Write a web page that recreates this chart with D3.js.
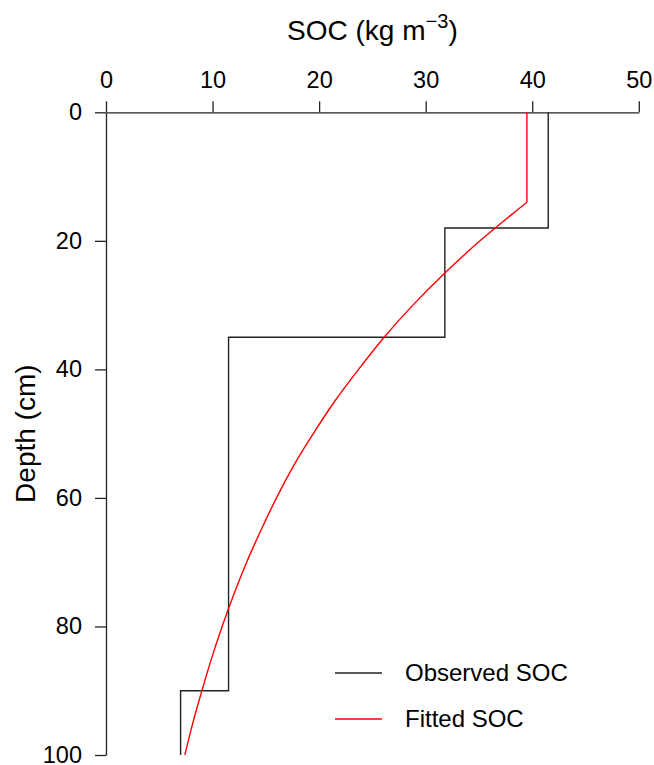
<!DOCTYPE html>
<html>
<head>
<meta charset="utf-8">
<script src="https://cdn.jsdelivr.net/npm/d3@7"></script>
<style>
  body { margin: 0; background: #fff; }
  text { font-family: "Liberation Sans", Arial, sans-serif; fill: #000; }
</style>
</head>
<body>
<svg class="chart" width="654" height="765"></svg>
<script>
// observed layers: depth bounds (cm) and SOC per layer
var layerTop = [0, 18, 35, 90];
var layerBottom = [18, 35, 90, 100];
var observedSOC = [41.5, 31.8, 11.5, 7.0];

// fitted curve
var fittedDepth = [0, 14, 20, 25, 30, 35, 40, 45, 50, 55, 60, 65, 70, 75, 80, 85, 90, 95, 100];
var fittedSOC = [39.5, 39.5, 35.1, 31.8, 28.8, 26.1, 23.7, 21.45, 19.45, 17.6, 16.0, 14.55, 13.2, 12.0, 10.9, 9.9, 9.0, 8.15, 7.4];

var xTicks = [0, 10, 20, 30, 40, 50];
var yTicks = [0, 20, 40, 60, 80, 100];
var legendLabels = ["Observed SOC", "Fitted SOC"];
var legendColors = ["#222", "red"];

var svg = d3.select(".chart"),
    tickFont = 23.5,
    titleFont = 28;

var x = d3.scaleLinear()
    .domain([0, 50])
    .range([106, 638.8]);

var y = d3.scaleLinear()
    .domain([0, 100])
    .range([112.3, 755]);

// top axis
var gx = svg.append("g")
    .attr("transform", "translate(0," + y(0) + ")")
    .call(d3.axisTop(x)
      .tickValues(xTicks)
      .tickSize(11)
      .tickSizeOuter(0)
      .tickPadding(13));

// left axis
var gy = svg.append("g")
    .attr("transform", "translate(" + x(0) + ",0)")
    .call(d3.axisLeft(y)
      .tickValues(yTicks)
      .tickSize(11)
      .tickSizeOuter(0)
      .tickPadding(13));

[gx, gy].forEach(function(g) {
  g.selectAll("path, line").attr("stroke", "#222").attr("stroke-width", 1.3);
  g.selectAll("text")
      .attr("font-size", tickFont)
      .attr("font-family", "Liberation Sans, Arial, sans-serif")
      .attr("fill", "#000");
});

// axis titles
var title = svg.append("text")
    .attr("x", (x(0) + x(50)) / 2)
    .attr("y", 40)
    .attr("text-anchor", "middle")
    .attr("font-size", titleFont);
title.append("tspan").text("SOC (kg m");
title.append("tspan")
    .attr("font-size", 20)
    .attr("dy", -12)
    .text("\u22123");
title.append("tspan")
    .attr("dy", 12)
    .text(")");

svg.append("text")
    .attr("transform", "translate(35," + ((y(0) + y(100)) / 2) + ") rotate(-90)")
    .attr("text-anchor", "middle")
    .attr("font-size", titleFont)
    .text("Depth (cm)");

// observed step profile
var observedPts = [];
observedSOC.forEach(function(v, i) {
  observedPts.push([v, layerTop[i]]);
  observedPts.push([v, layerBottom[i]]);
});

var line = d3.line()
    .x(function(d) { return x(d[0]); })
    .y(function(d) { return y(d[1]); });

svg.append("path")
    .datum(observedPts)
    .attr("fill", "none")
    .attr("stroke", legendColors[0])
    .attr("stroke-width", 1.4)
    .attr("d", line);

// fitted curve: straight top part, then smooth decay
var fittedPts = fittedDepth.map(function(d, i) { return [fittedSOC[i], d]; });

svg.append("path")
    .datum(fittedPts.slice(0, 2))
    .attr("fill", "none")
    .attr("stroke", legendColors[1])
    .attr("stroke-width", 1.4)
    .attr("d", line);

svg.append("path")
    .datum(fittedPts.slice(1))
    .attr("fill", "none")
    .attr("stroke", legendColors[1])
    .attr("stroke-width", 1.4)
    .attr("d", line.curve(d3.curveMonotoneY));

// legend
var legend = svg.append("g")
    .attr("transform", "translate(335,673)");

var item = legend.selectAll("g")
    .data(legendLabels)
  .enter().append("g")
    .attr("transform", function(d, i) { return "translate(0," + i * 46 + ")"; });

item.append("line")
    .attr("x1", 0)
    .attr("x2", 47)
    .attr("stroke", function(d, i) { return legendColors[i]; })
    .attr("stroke-width", 1.4);

item.append("text")
    .attr("x", 70)
    .attr("dy", "0.35em")
    .attr("font-size", 24)
    .text(function(d) { return d; });
</script>
</body>
</html>
